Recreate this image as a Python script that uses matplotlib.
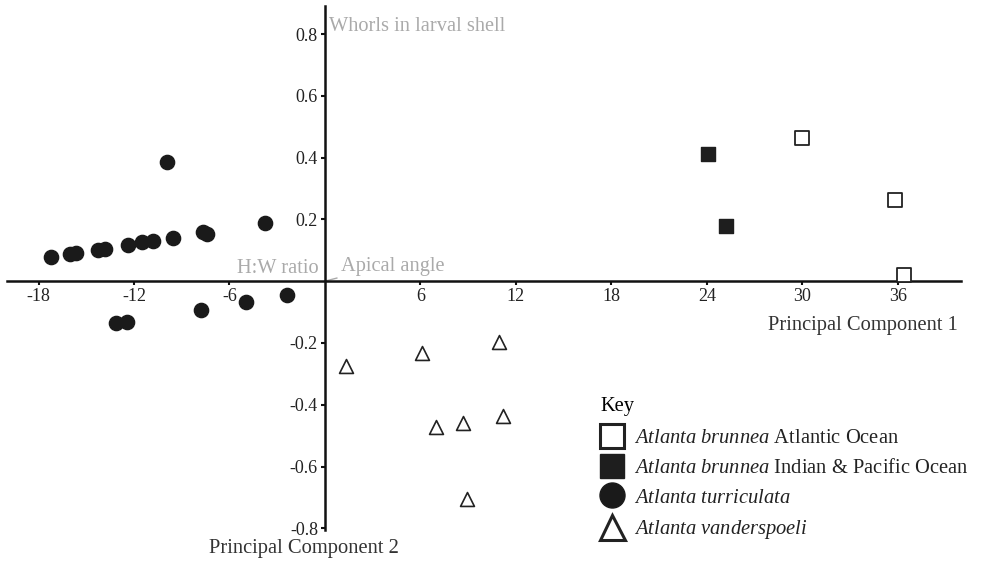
import matplotlib.pyplot as plt
from matplotlib.lines import Line2D

plt.rcParams['font.family'] = ['Liberation Serif', 'DejaVu Serif']
plt.rcParams['mathtext.fontset'] = 'custom'
plt.rcParams['mathtext.it'] = 'Liberation Serif:italic'
plt.rcParams['mathtext.rm'] = 'Liberation Serif'

# Atlanta brunnea, Atlantic Ocean (open squares)
atl_x = [30.0, 35.8, 36.4]
atl_y = [0.463, 0.264, 0.019]
# Atlanta brunnea, Indian & Pacific Ocean (filled squares)
indpac_x = [24.1, 25.2]
indpac_y = [0.412, 0.179]
# Atlanta turriculata (filled circles)
turr_x = [-17.2, -16.05, -15.63, -14.23, -13.85, -12.39, -11.47, -10.78, -9.56,
          -7.64, -7.43, -9.94, -3.75, -2.41, -4.96, -7.8, -13.12, -12.41]
turr_y = [0.078, 0.087, 0.092, 0.102, 0.105, 0.116, 0.127, 0.130, 0.139,
          0.159, 0.154, 0.387, 0.188, -0.045, -0.069, -0.092, -0.135, -0.131]
# Atlanta vanderspoeli (open triangles)
vand_x = [1.3, 6.13, 10.92, 6.97, 8.68, 11.22, 8.93]
vand_y = [-0.275, -0.232, -0.197, -0.473, -0.459, -0.438, -0.705]

xticks = [-18, -12, -6, 6, 12, 18, 24, 30, 36]
yticks = [-0.8, -0.6, -0.4, -0.2, 0.2, 0.4, 0.6, 0.8]

fig = plt.figure(figsize=(9.83, 5.64), dpi=100)
ax = fig.add_axes([0.0068, 0.060, 0.9712, 0.929])

ax.scatter(atl_x, atl_y, marker='s', s=95, facecolor='white', edgecolor='#222222', linewidths=1.3, zorder=3)
ax.scatter(indpac_x, indpac_y, marker='s', s=95, facecolor='#1e1e1e', edgecolor='#1e1e1e', zorder=3)
ax.scatter(turr_x, turr_y, marker='o', s=105, facecolor='#1a1a1a', edgecolor='#1a1a1a', zorder=3)
ax.scatter(vand_x, vand_y, marker='^', s=100, facecolor='white', edgecolor='#222222', linewidths=1.2, zorder=3)

ax.set_xlim(-20, 40)
ax.set_ylim(-0.806, 0.89)
ax.spines['left'].set_position(('data', 0))
ax.spines['bottom'].set_position(('data', 0))
ax.spines['top'].set_visible(False)
ax.spines['right'].set_visible(False)
for s in ['left', 'bottom']:
    ax.spines[s].set_linewidth(1.8)
    ax.spines[s].set_color('#111111')
ax.set_xticks(xticks)
ax.set_xticklabels([str(t) for t in xticks])
ax.set_yticks(yticks)
ax.set_yticklabels(['%.1f' % t for t in yticks])
ax.tick_params(direction='out', length=3, width=1.5, labelsize=13, colors='#111111', labelcolor='#222222', pad=2)
ax.patch.set_alpha(0)

# loading vector labels
ax.plot([0, 0.75], [0, 0.01], color='#aaaaaa', lw=1)
ax.text(0.25, 0.825, 'Whorls in larval shell', color='#aaaaaa', fontsize=14.7, va='center', ha='left')
ax.text(-0.4, 0.042, 'H:W ratio', color='#aaaaaa', fontsize=14.7, va='center', ha='right')
ax.text(1.0, 0.048, 'Apical angle', color='#aaaaaa', fontsize=14.7, va='center', ha='left')

ax.text(39.8, -0.142, 'Principal Component 1', color='#333333', fontsize=14.8, ha='right', va='center')
ax.text(-7.3, -0.865, 'Principal Component 2', color='#333333', fontsize=14.8, ha='left', va='center', clip_on=False)

handles = [
    Line2D([], [], marker='s', ls='', ms=17, mfc='white', mec='#222222', mew=2.2),
    Line2D([], [], marker='s', ls='', ms=17, mfc='#1e1e1e', mec='#1e1e1e'),
    Line2D([], [], marker='o', ls='', ms=18, mfc='#1a1a1a', mec='#1a1a1a'),
    Line2D([], [], marker='^', ls='', ms=18, mfc='white', mec='#222222', mew=2.2),
]
labels = [r'$\it{Atlanta\ brunnea}$ Atlantic Ocean',
          r'$\it{Atlanta\ brunnea}$ Indian & Pacific Ocean',
          r'$\it{Atlanta\ turriculata}$',
          r'$\it{Atlanta\ vanderspoeli}$']
leg = ax.legend(handles, labels, title='Key', loc='upper left', bbox_to_anchor=(0.613, 0.269),
                frameon=False, fontsize=14.8, title_fontsize=14.8, handlelength=1.2,
                handletextpad=0.45, labelspacing=0.5, borderaxespad=0, alignment='left')
leg._legend_box.sep = 9
for t in leg.get_texts():
    t.set_color('#222222')

fig.savefig('out.png', dpi=100)
